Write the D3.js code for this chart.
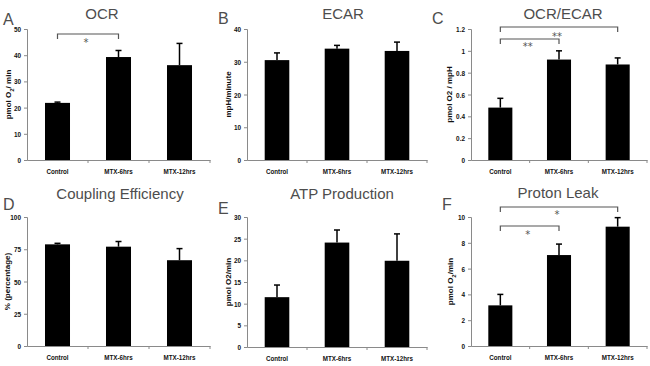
<!DOCTYPE html>
<html>
<head>
<meta charset="utf-8">
<script src="https://cdn.jsdelivr.net/npm/d3@7"></script>
<style>
  body { margin: 0; background: #fff; }
  svg { display: block; }
  text { -webkit-font-smoothing: antialiased; }
  .tick text, .ylab { font-family: "Liberation Sans", Arial, sans-serif; font-weight: bold; font-size: 8px; fill: #111; }
</style>
</head>
<body>
<div id="chart"></div>
<script>
// categories shared by every panel
const categories = ["Control", "MTX-6hrs", "MTX-12hrs"];

// A: OCR
const ocrMean = [21.8, 39.3, 36.2];
const ocrErr = [0.3, 2.5, 8.3];
// B: ECAR
const ecarMean = [30.5, 34.0, 33.3];
const ecarErr = [2.2, 1.0, 2.7];
// C: OCR/ECAR
const ratioMean = [0.48, 0.92, 0.875];
const ratioErr = [0.085, 0.08, 0.06];
// D: Coupling Efficiency
const couplingMean = [78.8, 77.0, 66.5];
const couplingErr = [0.8, 4.0, 9.0];
// E: ATP Production
const atpMean = [11.5, 24.1, 19.9];
const atpErr = [2.8, 2.9, 6.2];
// F: Proton Leak
const leakMean = [3.15, 7.05, 9.25];
const leakErr = [0.85, 0.85, 0.7];

const ocrTicks = [0, 10, 20, 30, 40, 50];
const ecarTicks = [0, 10, 20, 30, 40];
const ratioTicks = [0, 0.2, 0.4, 0.6, 0.8, 1, 1.2];
const couplingTicks = [0, 25, 50, 75, 100];
const atpTicks = [0, 5, 10, 15, 20, 25, 30];
const leakTicks = [0, 2, 4, 6, 8, 10];

const W = 650, H = 366;
const svg = d3.select("#chart").append("svg").attr("width", W).attr("height", H);

const panels = [
  {letter: "A", title: "OCR", mean: ocrMean, err: ocrErr, ticks: ocrTicks, ylabel: "pmol O<sub>2</sub>/ min",
   box: {l: 27, r: 210, t: 29, b: 160}, ylx: 8, tx: 102, ty: 19, lx: 3, ly: 25,
   sig: [{from: 0, to: 1, y: 34, sy: 46}]},
  {letter: "B", title: "ECAR", mean: ecarMean, err: ecarErr, ticks: ecarTicks, ylabel: "mpH/minute",
   box: {l: 247, r: 427, t: 29, b: 160}, ylx: 228, tx: 343, ty: 19, lx: 218, ly: 24, sig: []},
  {letter: "C", title: "OCR/ECAR", mean: ratioMean, err: ratioErr, ticks: ratioTicks, ylabel: "pmol O2 / mpH",
   box: {l: 471, r: 647, t: 29, b: 160}, ylx: 449, tx: 563, ty: 19, lx: 432, ly: 24,
   sig: [{from: 0, to: 2, y: 27, sy: 40, star: "**"}, {from: 0, to: 1, y: 39, sy: 50, star: "**"}]},
  {letter: "D", title: "Coupling Efficiency", mean: couplingMean, err: couplingErr, ticks: couplingTicks, ylabel: "% (percentage)",
   box: {l: 27, r: 210, t: 217, b: 346}, ylx: 7, tx: 120, ty: 199, lx: 3, ly: 210, sig: []},
  {letter: "E", title: "ATP Production", mean: atpMean, err: atpErr, ticks: atpTicks, ylabel: "pmol O2/min",
   box: {l: 247, r: 427, t: 217, b: 347}, ylx: 228, tx: 342, ty: 199, lx: 218, ly: 214, sig: []},
  {letter: "F", title: "Proton Leak", mean: leakMean, err: leakErr, ticks: leakTicks, ylabel: "pmol O<sub>2</sub>/min",
   box: {l: 471, r: 647, t: 217, b: 346}, ylx: 450, tx: 558, ty: 198, lx: 442, ly: 210,
   sig: [{from: 0, to: 2, y: 207, sy: 218, star: "*"}, {from: 0, to: 1, y: 226, sy: 238, star: "*"}]}
];

// squeeze text horizontally, the original uses a narrow bold face
function narrow(sel, k) {
  sel.each(function() {
    const len = this.getComputedTextLength();
    d3.select(this).attr("textLength", len * k).attr("lengthAdjust", "spacingAndGlyphs");
  });
}

panels.forEach(p => {
  const g = svg.append("g");
  const x = d3.scaleBand().domain(categories).range([p.box.l, p.box.r]).paddingInner(0.59).paddingOuter(0.295);
  const y = d3.scaleLinear().domain([p.ticks[0], p.ticks[p.ticks.length - 1]]).range([p.box.b, p.box.t]);

  // y axis
  const ya = g.append("g").attr("transform", `translate(${p.box.l},0)`)
    .call(d3.axisLeft(y).tickValues(p.ticks).tickSize(3).tickPadding(3).tickFormat(d3.format("~g")));
  ya.selectAll("line, path").attr("stroke", "#8a8a8a");
  narrow(ya.selectAll("text"), 0.8);

  // x axis, ticks between categories like a spreadsheet chart
  const xa = g.append("g").attr("transform", `translate(0,${p.box.b})`)
    .call(d3.axisBottom(x).tickSize(0).tickPadding(8));
  xa.select("path").attr("stroke", "#8a8a8a");
  narrow(xa.selectAll("text"), 0.78);
  const bounds = [1, 2, 3].map(i => p.box.l + i * (p.box.r - p.box.l) / 3);
  g.selectAll(".xt").data(bounds).enter().append("line")
    .attr("x1", d => d).attr("x2", d => d)
    .attr("y1", p.box.b).attr("y2", p.box.b + 3)
    .attr("stroke", "#8a8a8a");

  // bars
  g.selectAll(".bar").data(p.mean).enter().append("rect")
    .attr("x", (d, i) => x(categories[i]))
    .attr("width", x.bandwidth())
    .attr("y", d => y(d))
    .attr("height", d => y(0) - y(d))
    .attr("fill", "#000");

  // error bars (upper only)
  const cx = i => x(categories[i]) + x.bandwidth() / 2;
  const eb = g.selectAll(".err").data(p.mean).enter().append("g");
  eb.append("line")
    .attr("x1", (d, i) => cx(i)).attr("x2", (d, i) => cx(i))
    .attr("y1", d => y(d))
    .attr("y2", (d, i) => y(d + p.err[i]))
    .attr("stroke", "#000").attr("stroke-width", 1.5);
  eb.append("line")
    .attr("x1", (d, i) => cx(i) - 3).attr("x2", (d, i) => cx(i) + 3)
    .attr("y1", (d, i) => y(d + p.err[i]))
    .attr("y2", (d, i) => y(d + p.err[i]))
    .attr("stroke", "#000").attr("stroke-width", 1.5);

  // significance brackets
  p.sig.forEach(s => {
    const x1 = cx(s.from), x2 = cx(s.to);
    g.append("path")
      .attr("d", `M${x1},${s.y + 5}V${s.y}H${x2}V${s.y + 5}`)
      .attr("fill", "none").attr("stroke", "#555").attr("stroke-width", 1.2);
    g.append("text")
      .attr("x", (x1 + x2) / 2 - 2).attr("y", s.sy)
      .attr("text-anchor", "middle")
      .style("font-family", "DejaVu Sans, sans-serif")
      .style("font-size", "10px").style("fill", "#555")
      .text(s.star || "*");
  });

  // y label
  const yl = g.append("text").attr("class", "ylab")
    .attr("transform", `translate(${p.ylx},${(p.box.t + p.box.b) / 2}) rotate(-90)`)
    .attr("text-anchor", "middle")
    .attr("dy", "0.35em");
  p.ylabel.split(/<sub>|<\/sub>/).forEach((t, i) => {
    const ts = yl.append("tspan").text(t);
    if (i === 1) ts.attr("baseline-shift", "sub").style("font-size", "6px");
  });

  // title and panel letter
  g.append("text")
    .attr("x", p.tx).attr("y", p.ty)
    .attr("text-anchor", "middle")
    .style("font-family", "Liberation Sans, Arial, sans-serif")
    .style("font-size", "15px").style("fill", "#4d4d4d")
    .text(p.title);
  g.append("text")
    .attr("x", p.lx).attr("y", p.ly)
    .style("font-family", "Liberation Sans, Arial, sans-serif")
    .style("font-size", "16px").style("fill", "#4d4d4d")
    .text(p.letter);
});
</script>
</body>
</html>
